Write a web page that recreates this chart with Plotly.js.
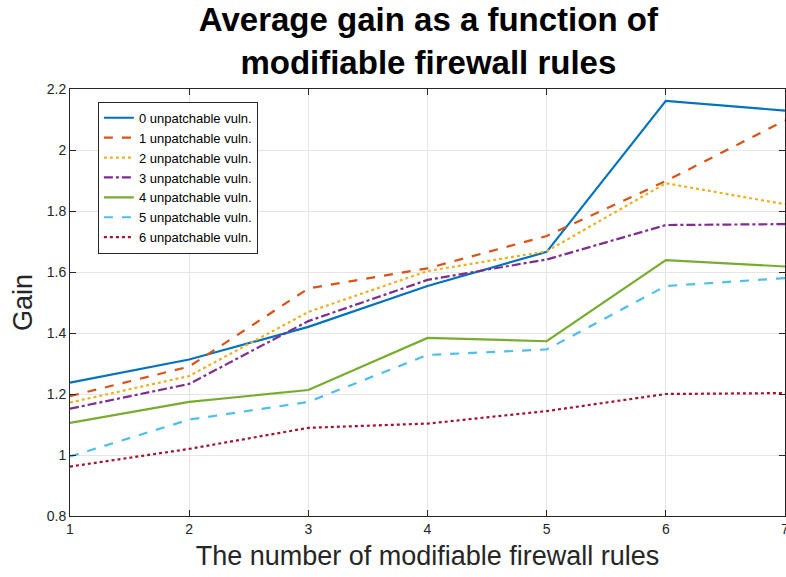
<!DOCTYPE html>
<html>
<head>
<meta charset="utf-8">
<script src="https://cdn.plot.ly/plotly-3.0.1.min.js"></script>
<style>html,body{margin:0;padding:0;background:#fff;}#chart{width:786px;height:577px;}</style>
</head>
<body>
<div id="chart"></div>
<script>
const rules = [1, 2, 3, 4, 5, 6, 7];
const seriesNames = ["0 unpatchable vuln.", "1 unpatchable vuln.", "2 unpatchable vuln.", "3 unpatchable vuln.", "4 unpatchable vuln.", "5 unpatchable vuln.", "6 unpatchable vuln."];
const gain0 = [1.237, 1.313, 1.420, 1.554, 1.666, 2.161, 2.129];
const gain1 = [1.193, 1.290, 1.546, 1.612, 1.718, 1.898, 2.097];
const gain2 = [1.172, 1.259, 1.469, 1.603, 1.668, 1.891, 1.822];
const gain3 = [1.152, 1.233, 1.439, 1.574, 1.641, 1.754, 1.757];
const gain4 = [1.105, 1.174, 1.213, 1.384, 1.373, 1.639, 1.618];
const gain5 = [0.995, 1.116, 1.174, 1.328, 1.346, 1.554, 1.580];
const gain6 = [0.962, 1.020, 1.089, 1.103, 1.144, 1.200, 1.203];
const allGains = [gain0, gain1, gain2, gain3, gain4, gain5, gain6];
const colors = ["#0072BD", "#D95319", "#EDB120", "#7E2F8E", "#77AC30", "#4DBEEE", "#A2142F"];
const dashes = ["solid", "dash", "dot", "dashdot", "solid", "dash", "dot"];

const traces = allGains.map((g, i) => ({
  x: rules, y: g, type: "scatter", mode: "lines", name: seriesNames[i],
  line: {color: colors[i], width: 2.2, dash: dashes[i]}
}));

const layout = {
  width: 786, height: 577,
  margin: {l: 70, r: 1, t: 89, b: 61},
  paper_bgcolor: "#fff", plot_bgcolor: "#fff",
  font: {family: "Liberation Sans, Arial, sans-serif", color: "#262626"},
  title: {text: "<b>Average gain as a function of<br>modifiable firewall rules</b>", x: 0.545, xanchor: "center", yref: "container", y: 0.946, yanchor: "middle", font: {size: 33, color: "#000"}},
  xaxis: {range: [1, 7], tickvals: rules, ticks: "inside", ticklen: 6, tickcolor: "#262626",
    showline: true, linecolor: "#262626", linewidth: 1, mirror: "ticks",
    showgrid: true, gridcolor: "#e5e5e5", zeroline: false, ticklabeloverflow: "allow",
    tickfont: {size: 14, color: "#262626"},
    title: {text: "The number of modifiable firewall rules", font: {size: 27, color: "#262626"}, standoff: 10}},
  yaxis: {range: [0.8, 2.2], tickvals: [0.8, 1, 1.2, 1.4, 1.6, 1.8, 2, 2.2], ticktext: ["0.8", "1", "1.2", "1.4", "1.6", "1.8", "2", "2.2"],
    ticks: "inside", ticklen: 6, tickcolor: "#262626",
    showline: true, linecolor: "#262626", linewidth: 1, mirror: "ticks",
    showgrid: true, gridcolor: "#e5e5e5", zeroline: false,
    tickfont: {size: 14, color: "#262626"},
    title: {text: "Gain", font: {size: 27, color: "#262626"}, standoff: 6}},
  legend: {x: 0.039, y: 0.97, xanchor: "left", yanchor: "top", bgcolor: "#fff", bordercolor: "#262626", borderwidth: 1,
    font: {size: 13, color: "#000"}, tracegroupgap: 0},
  showlegend: true
};

Plotly.newPlot("chart", traces, layout, {displayModeBar: false, staticPlot: true});
</script>
</body>
</html>
